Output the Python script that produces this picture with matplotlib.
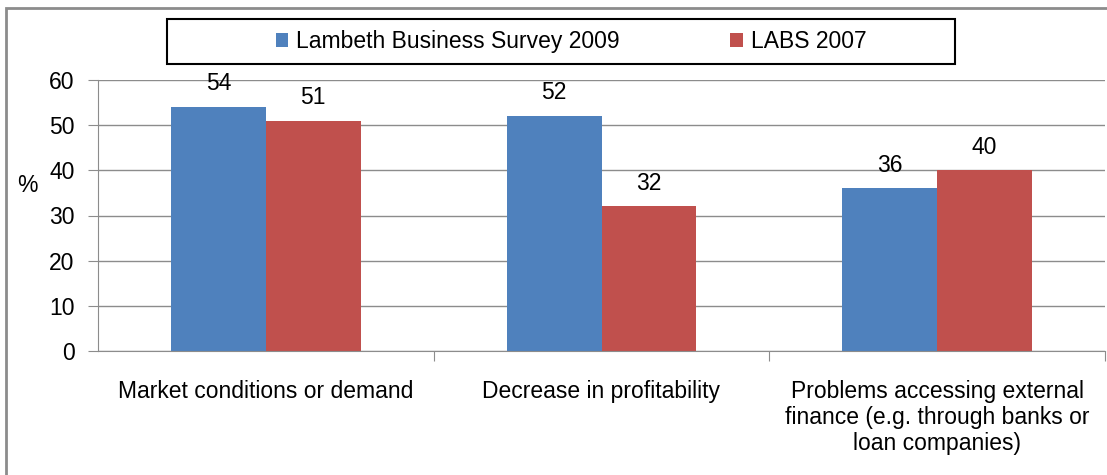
import numpy as np
import matplotlib.pyplot as plt
from matplotlib.patches import Rectangle

plt.rcParams['font.family'] = ['Liberation Sans', 'DejaVu Sans']

categories = ["Market conditions or demand",
              "Decrease in profitability",
              "Problems accessing external\nfinance (e.g. through banks or\nloan companies)"]
survey_2009 = [54, 52, 36]
labs_2007 = [51, 32, 40]
series_names = ["Lambeth Business Survey 2009", "LABS 2007"]
colors = ["#4F81BD", "#C0504D"]

W, H = 1107, 475
fs = 16.5
fig = plt.figure(figsize=(W / 100, H / 100), dpi=100)
ax = fig.add_axes([98 / W, 1 - 351 / H, 1007 / W, 271 / H])

# outer chart frame
fig.patches.append(Rectangle((6 / W, -0.1), 1.2, 1 - 8 / H + 0.1, transform=fig.transFigure,
                             fill=False, edgecolor="#8c8c8c", linewidth=2))

x = np.arange(len(categories))
bw = 0.283
b1 = ax.bar(x - bw / 2, survey_2009, bw, color=colors[0], label=series_names[0])
b2 = ax.bar(x + bw / 2, labs_2007, bw, color=colors[1], label=series_names[1])
for bars in (b1, b2):
    for b in bars:
        ax.text(b.get_x() + b.get_width() / 2, b.get_height() + 2.6, f"{b.get_height():.0f}",
                ha="center", va="bottom", fontsize=fs)

ax.set_xlim(-0.5, 2.5)
ax.set_ylim(0, 60)
ax.set_yticks(range(0, 61, 10))
ax.yaxis.grid(True, color="#8c8c8c", linewidth=1)
ax.set_axisbelow(True)
for s in ["top", "right"]:
    ax.spines[s].set_visible(False)
ax.spines["left"].set_color("#8c8c8c")
ax.spines["bottom"].set_color("#8c8c8c")
ax.tick_params(axis="y", length=7, color="#8c8c8c", labelsize=fs, pad=10)
ax.set_xticks([0.5, 1.5, 2.5])
ax.set_xticklabels([])
ax.tick_params(axis="x", length=7, color="#8c8c8c")
ax.set_xticks(x, minor=True)
ax.set_xticklabels(categories, minor=True, fontsize=fs, linespacing=1.17)
ax.tick_params(axis="x", which="minor", length=0, pad=21)
ax.text(-0.07, 0.61, "%", transform=ax.transAxes, fontsize=fs, ha="center", va="center")

# legend box
fig.patches.append(Rectangle((167 / W, 1 - 64 / H), 788 / W, 45 / H, transform=fig.transFigure,
                             fill=False, edgecolor="black", linewidth=1.5))
fig.legend(loc="center", bbox_to_anchor=(571 / W, 1 - 41.5 / H), ncol=2, frameon=False,
           fontsize=fs, handlelength=0.55, handleheight=0.55, handletextpad=0.35,
           columnspacing=4.8)

fig.savefig("out.png", dpi=100)
